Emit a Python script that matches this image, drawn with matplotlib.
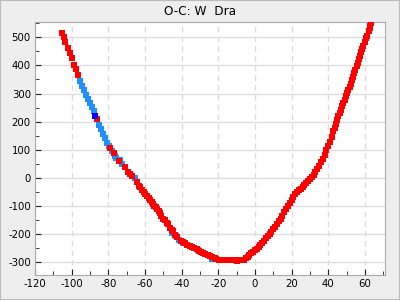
import matplotlib
matplotlib.use('Agg')
import matplotlib.pyplot as plt
from matplotlib.patches import Rectangle
from matplotlib.ticker import MultipleLocator

plt.rcParams['axes.unicode_minus'] = False

# Epoch / O-C values
e_red = [-105.1, -104.4, -103.5, -101.8, -100.7, -99.6, -98.6, -97.5, -96.4, -85.9,
         -78.9, -76.7, -74, -70.7, -69.1, -68, -66.8, -64.5, -63.4, -62.5,
         -61.5, -60.5, -59.8, -58.7, -57.8, -57.3, -56.3, -55.5, -54.9, -54,
         -53.3, -52.3, -51.8, -51, -50.2, -49, -48.2, -47.3, -46.4, -45.5,
         -44.5, -43.5, -42.5, -40.2, -39.3, -38, -36.8, -35.5, -34.2, -33,
         -31.8, -30.7, -29.5, -28.2, -27, -25.7, -24.5, -23.2, -22, -21,
         -19.8, -18.5, -17.3, -16, -14.8, -13.5, -12.2, -11, -9.8, -8.5,
         -7.3, -6.2, -5, -4, -3, -2, -1, 0, 1, 2,
         3, 4, 5, 6, 7, 8, 9, 10, 11, 12,
         13, 14, 15, 16, 17, 18, 19, 20, 21, 22,
         23, 24, 25, 26, 27, 28, 29, 30, 31, 32,
         33, 34, 35, 36, 37, 38, 39, 40, 41, 42,
         42.8, 43.5, 44.2, 45, 45.6, 46.3, 46.9, 47.6, 48.3, 49,
         49.7, 50.4, 51, 51.7, 52.3, 53, 53.5, 54.2, 54.8, 55.5,
         56, 56.7, 57.2, 58, 58.5, 59.2, 60, 60.7, 61.3, 62.2,
         62.6, 63, 63.4]
oc_red = [516, 501, 485, 462, 444, 427, 403, 388, 367, 208,
          106, 88, 59, 38, 21, 13, 6, -17, -28, -35,
          -43, -52, -58, -67, -74, -80, -88, -95, -102, -106,
          -113, -120, -127, -136, -146, -152, -160, -165, -178, -185,
          -191, -204, -210, -226, -230, -234, -240, -242, -248, -252,
          -256, -260, -264, -268, -273, -277, -280, -284, -287, -290,
          -292, -293, -293, -293, -293, -294, -295, -295, -296, -295,
          -294, -292, -288, -283, -276, -270, -264, -258, -253, -248,
          -240, -232, -224, -216, -208, -200, -192, -184, -175, -166,
          -156, -146, -136, -124, -112, -102, -90, -79, -69, -59,
          -51, -45, -39, -33, -27, -20, -13, -6, 2, 10,
          19, 30, 42, 55, 68, 82, 98, 114, 128, 145,
          165, 178, 190, 205, 220, 232, 243, 255, 266, 278,
          290, 302, 314, 325, 335, 347, 358, 372, 385, 398,
          410, 423, 432, 447, 457, 470, 483, 497, 505, 522,
          532, 542, 550]

e_blue = [-95.3, -94.2, -93.1, -92, -90.9, -89.8, -88.7, -87.6, -85, -83.8,
          -82.7, -81.6, -80.6, -79.6, -78, -76.4, -75.6, -73.6, -72.5, -65.5,
          -45.5, -43, -41.5, -39, -37, -31, -23.6]
oc_blue = [343, 328, 311, 295, 281, 265, 251, 238, 189, 174,
           157, 141, 124, 112, 96, 78, 70, 62, 50, -1,
           -197, -209, -222, -233, -239, -259, -290]

e_dark = [-87.1]
oc_dark = [220]

fig = plt.figure(figsize=(4, 3), dpi=100, facecolor='#eeeeee')
fig.patches.append(Rectangle((0, 0), 1, 1, transform=fig.transFigure,
                             fill=False, edgecolor='#bbbbbb', lw=1.5))
ax = fig.add_axes([0.0875, 0.0833, 0.875, 0.8434])

ax.plot(e_blue, oc_blue, 's', color='#1e90ff', ms=3.8, mew=0, zorder=3)
ax.plot(e_red, oc_red, 's', color='#ff0000', ms=3.8, mew=0, zorder=4)
ax.plot(e_dark, oc_dark, 's', color='#0000ee', ms=3.8, mew=0, zorder=5)

ax.set_xlim(-120, 71)
ax.set_ylim(-347, 555)
ax.xaxis.set_major_locator(MultipleLocator(20))
ax.xaxis.set_minor_locator(MultipleLocator(10))
ax.yaxis.set_major_locator(MultipleLocator(100))
ax.yaxis.set_minor_locator(MultipleLocator(50))
ax.tick_params(which='both', direction='in', top=False, right=False,
               labelsize=7.3, colors='black', pad=3)
ax.tick_params(which='major', length=4, color='#222222')
ax.tick_params(which='minor', length=3, color='#222222')

ax.grid(axis='x', which='major', color='#dddddd', ls=(0, (4, 3)), lw=1)
ax.grid(axis='y', which='major', color='#dddddd', ls='-', lw=1)
ax.set_axisbelow(True)
for s in ax.spines.values():
    s.set_color('#aaaaaa')

fig.text(0.5, 0.962, 'O-C: W  Dra', ha='center', va='center', fontsize=8.7)

fig.savefig('out.png', dpi=100, facecolor=fig.get_facecolor())
